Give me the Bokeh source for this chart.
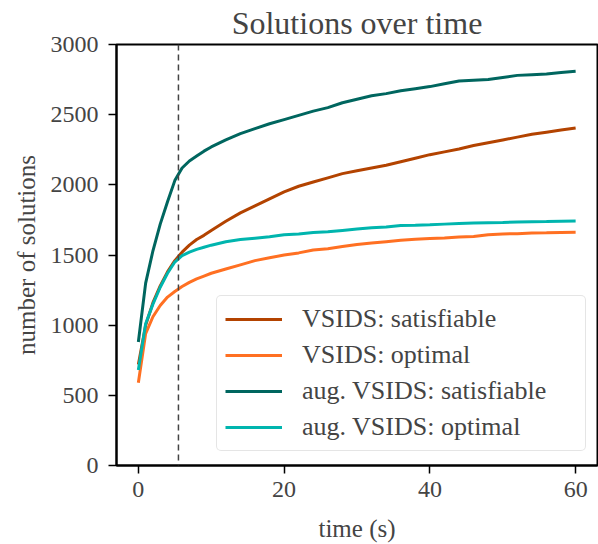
from bokeh.plotting import figure
from bokeh.models import Span, Legend, LegendItem, Range1d, FixedTicker
from bokeh.embed import file_html
from bokeh.resources import INLINE

time_s = [0, 1, 2, 3, 4, 5, 6, 7, 8, 9, 10, 12, 14, 16, 18, 20, 22, 24, 26, 28, 30,
          32, 34, 36, 38, 40, 42, 44, 46, 48, 50, 52, 54, 56, 58, 60]

vsids_sat = [720, 1000, 1160, 1280, 1380, 1460, 1520, 1570, 1610, 1640, 1675, 1740, 1800,
             1850, 1900, 1950, 1990, 2020, 2050, 2080, 2100, 2120, 2140, 2165, 2190, 2215,
             2235, 2255, 2280, 2300, 2320, 2340, 2360, 2375, 2390, 2405]
vsids_opt = [590, 940, 1060, 1140, 1200, 1240, 1275, 1305, 1330, 1350, 1370, 1400, 1430,
             1460, 1480, 1500, 1515, 1535, 1545, 1560, 1575, 1585, 1595, 1605, 1612, 1618,
             1622, 1628, 1632, 1645, 1650, 1652, 1657, 1658, 1660, 1662]
aug_sat = [880, 1300, 1530, 1720, 1880, 2030, 2120, 2170, 2205, 2240, 2270, 2320, 2365,
           2400, 2435, 2465, 2495, 2525, 2550, 2585, 2610, 2635, 2650, 2670, 2685, 2700,
           2720, 2740, 2745, 2750, 2765, 2780, 2785, 2790, 2800, 2810]
aug_opt = [680, 1010, 1150, 1270, 1370, 1450, 1495, 1520, 1540, 1555, 1570, 1595, 1610,
           1620, 1630, 1645, 1650, 1660, 1665, 1675, 1685, 1695, 1700, 1710, 1712, 1715,
           1720, 1725, 1728, 1730, 1732, 1735, 1737, 1738, 1740, 1742]

labels = ["VSIDS: satisfiable", "VSIDS: optimal", "aug. VSIDS: satisfiable", "aug. VSIDS: optimal"]
colors = ["#b34300", "#ff7022", "#00665f", "#00b5ae"]
series = [vsids_sat, vsids_opt, aug_sat, aug_opt]
cutoff_time = 5.5

x_ticks = [0, 20, 40, 60]
y_ticks = [0, 500, 1000, 1500, 2000, 2500, 3000]

FONT = "'Liberation Serif', 'Times New Roman', serif"

p = figure(width=598, height=544, output_backend="svg", toolbar_location=None,
           x_range=Range1d(-3, 63), y_range=Range1d(0, 3000),
           min_border_left=116, min_border_right=1, min_border_top=44, min_border_bottom=78,
           title="Solutions over time")
p.background_fill_color = "white"
p.border_fill_color = "white"
p.grid.visible = False
p.outline_line_color = "black"
p.outline_line_width = 2

p.title.text_font = FONT
p.title.text_font_size = "32px"
p.title.text_font_style = "normal"
p.title.align = "center"
p.title.vertical_align = "top"
p.title.standoff = 4

for ax in (p.xaxis[0], p.yaxis[0]):
    ax.axis_line_width = 2
    ax.major_tick_line_width = 1.5
    ax.major_tick_out = 8
    ax.major_tick_in = 0
    ax.minor_tick_out = 0
    ax.minor_tick_in = 0
    ax.major_label_text_font = FONT
    ax.major_label_text_font_size = "24px"
    ax.axis_label_text_font = FONT
    ax.axis_label_text_font_size = "25px"
    ax.axis_label_text_font_style = "normal"

p.xaxis[0].major_label_standoff = 8
p.yaxis[0].major_label_standoff = 10
p.xaxis[0].axis_label_standoff = 15
p.yaxis[0].axis_label_standoff = 8

p.xaxis.ticker = FixedTicker(ticks=x_ticks)
p.yaxis.ticker = FixedTicker(ticks=y_ticks)
p.xaxis.axis_label = "time (s)"
p.yaxis.axis_label = "number of solutions"

p.add_layout(Span(location=cutoff_time, dimension="height", line_color="#444444",
                  line_width=1.5, line_dash="6 4"))

items = []
for lab, col, ys in zip(labels, colors, series):
    r = p.line(time_s, ys, line_color=col, line_width=3)
    items.append(LegendItem(label=lab, renderers=[r]))

legend = Legend(items=items, location=(100, 14))
legend.label_text_font = FONT
legend.label_text_font_size = "26px"
legend.glyph_width = 57
legend.glyph_height = 30
legend.label_height = 30
legend.label_width = 275
legend.label_standoff = 20
legend.spacing = 6
legend.padding = 8
legend.border_line_color = "#cccccc"
legend.border_line_width = 1.5
legend.border_radius = 5
legend.background_fill_alpha = 0.8
p.add_layout(legend)

open("out.html", "w").write(file_html(p, INLINE))
